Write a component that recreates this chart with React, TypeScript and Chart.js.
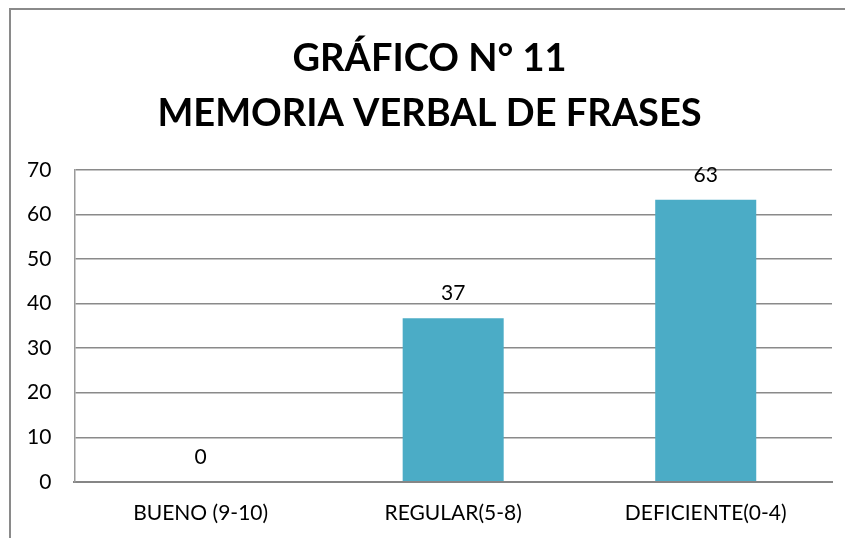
import React, { useEffect, useRef } from "react";
import { Chart, registerables } from "chart.js";

Chart.register(...registerables);

const titleLines = ["GRÁFICO N° 11", "MEMORIA VERBAL DE FRASES"];
const categories = ["BUENO (9-10)", "REGULAR(5-8)", "DEFICIENTE(0-4)"];
const values = [0, 36.7, 63.3];
const yMin = 0;
const yMax = 70;
const yStep = 10;

const FONT = "Lato, Calibri, Carlito, sans-serif";

const valueLabels = {
  id: "valueLabels",
  afterDatasetsDraw(chart: any) {
    const ctx = chart.ctx;
    const meta = chart.getDatasetMeta(0);
    ctx.save();
    ctx.font = `21px ${FONT}`;
    ctx.fillStyle = "#000";
    ctx.textAlign = "center";
    ctx.textBaseline = "middle";
    meta.data.forEach((bar: any, i: number) => {
      const v = chart.data.datasets[0].data[i] as number;
      ctx.fillText(String(Math.round(v)), bar.x, bar.y - 25);
    });
    ctx.restore();
  },
};

export default function App() {
  const ref = useRef<HTMLCanvasElement | null>(null);
  useEffect(() => {
    if (!ref.current) return;
    const chart = new Chart(ref.current, {
      type: "bar",
      data: {
        labels: categories,
        datasets: [
          {
            data: values,
            backgroundColor: "#4BACC6",
            barPercentage: 0.4,
            categoryPercentage: 1,
          },
        ],
      },
      options: {
        responsive: false,
        animation: false,
        devicePixelRatio: 1,
        layout: { padding: { top: 0, left: 27, right: 13, bottom: 12 } },
        plugins: {
          legend: { display: false },
          tooltip: { enabled: false },
          title: {
            display: true,
            text: titleLines,
            color: "#000",
            font: { family: FONT, size: 38, weight: "bold", lineHeight: 55 / 38 },
            padding: { top: 31, bottom: 29 },
          },
        },
        scales: {
          x: {
            grid: { display: false, drawTicks: false },
            border: { display: true, color: "#868686", width: 2 },
            ticks: { color: "#000", font: { family: FONT, size: 21 }, padding: 19 },
            afterFit: (s: any) => {
              s.height -= s.options.ticks.padding;
            },
          },
          y: {
            min: yMin,
            max: yMax,
            grid: { color: "#8a8a8a", lineWidth: 1.5, drawTicks: false },
            border: { display: true, color: "#9a9a9a", width: 1.5 },
            ticks: {
              stepSize: yStep,
              color: "#000",
              font: { family: FONT, size: 21 },
              padding: 23,
            },
            afterFit: (s: any) => {
              s.width -= s.options.ticks.padding;
            },
          },
        },
      },
      plugins: [valueLabels],
    });
    return () => chart.destroy();
  }, []);

  return (
    <div
      style={{
        position: "fixed",
        left: 0,
        top: 0,
        width: 845,
        height: 538,
        overflow: "hidden",
        background: "#fff",
      }}
    >
      <div
        style={{
          position: "absolute",
          left: 9,
          top: 8,
          width: 900,
          height: 600,
          borderTop: "2px solid #8a8a8a",
          borderLeft: "2px solid #8a8a8a",
        }}
      />
      <canvas
        ref={ref}
        width={845}
        height={538}
        style={{ position: "absolute", left: 0, top: 0, display: "block" }}
      />
    </div>
  );
}
